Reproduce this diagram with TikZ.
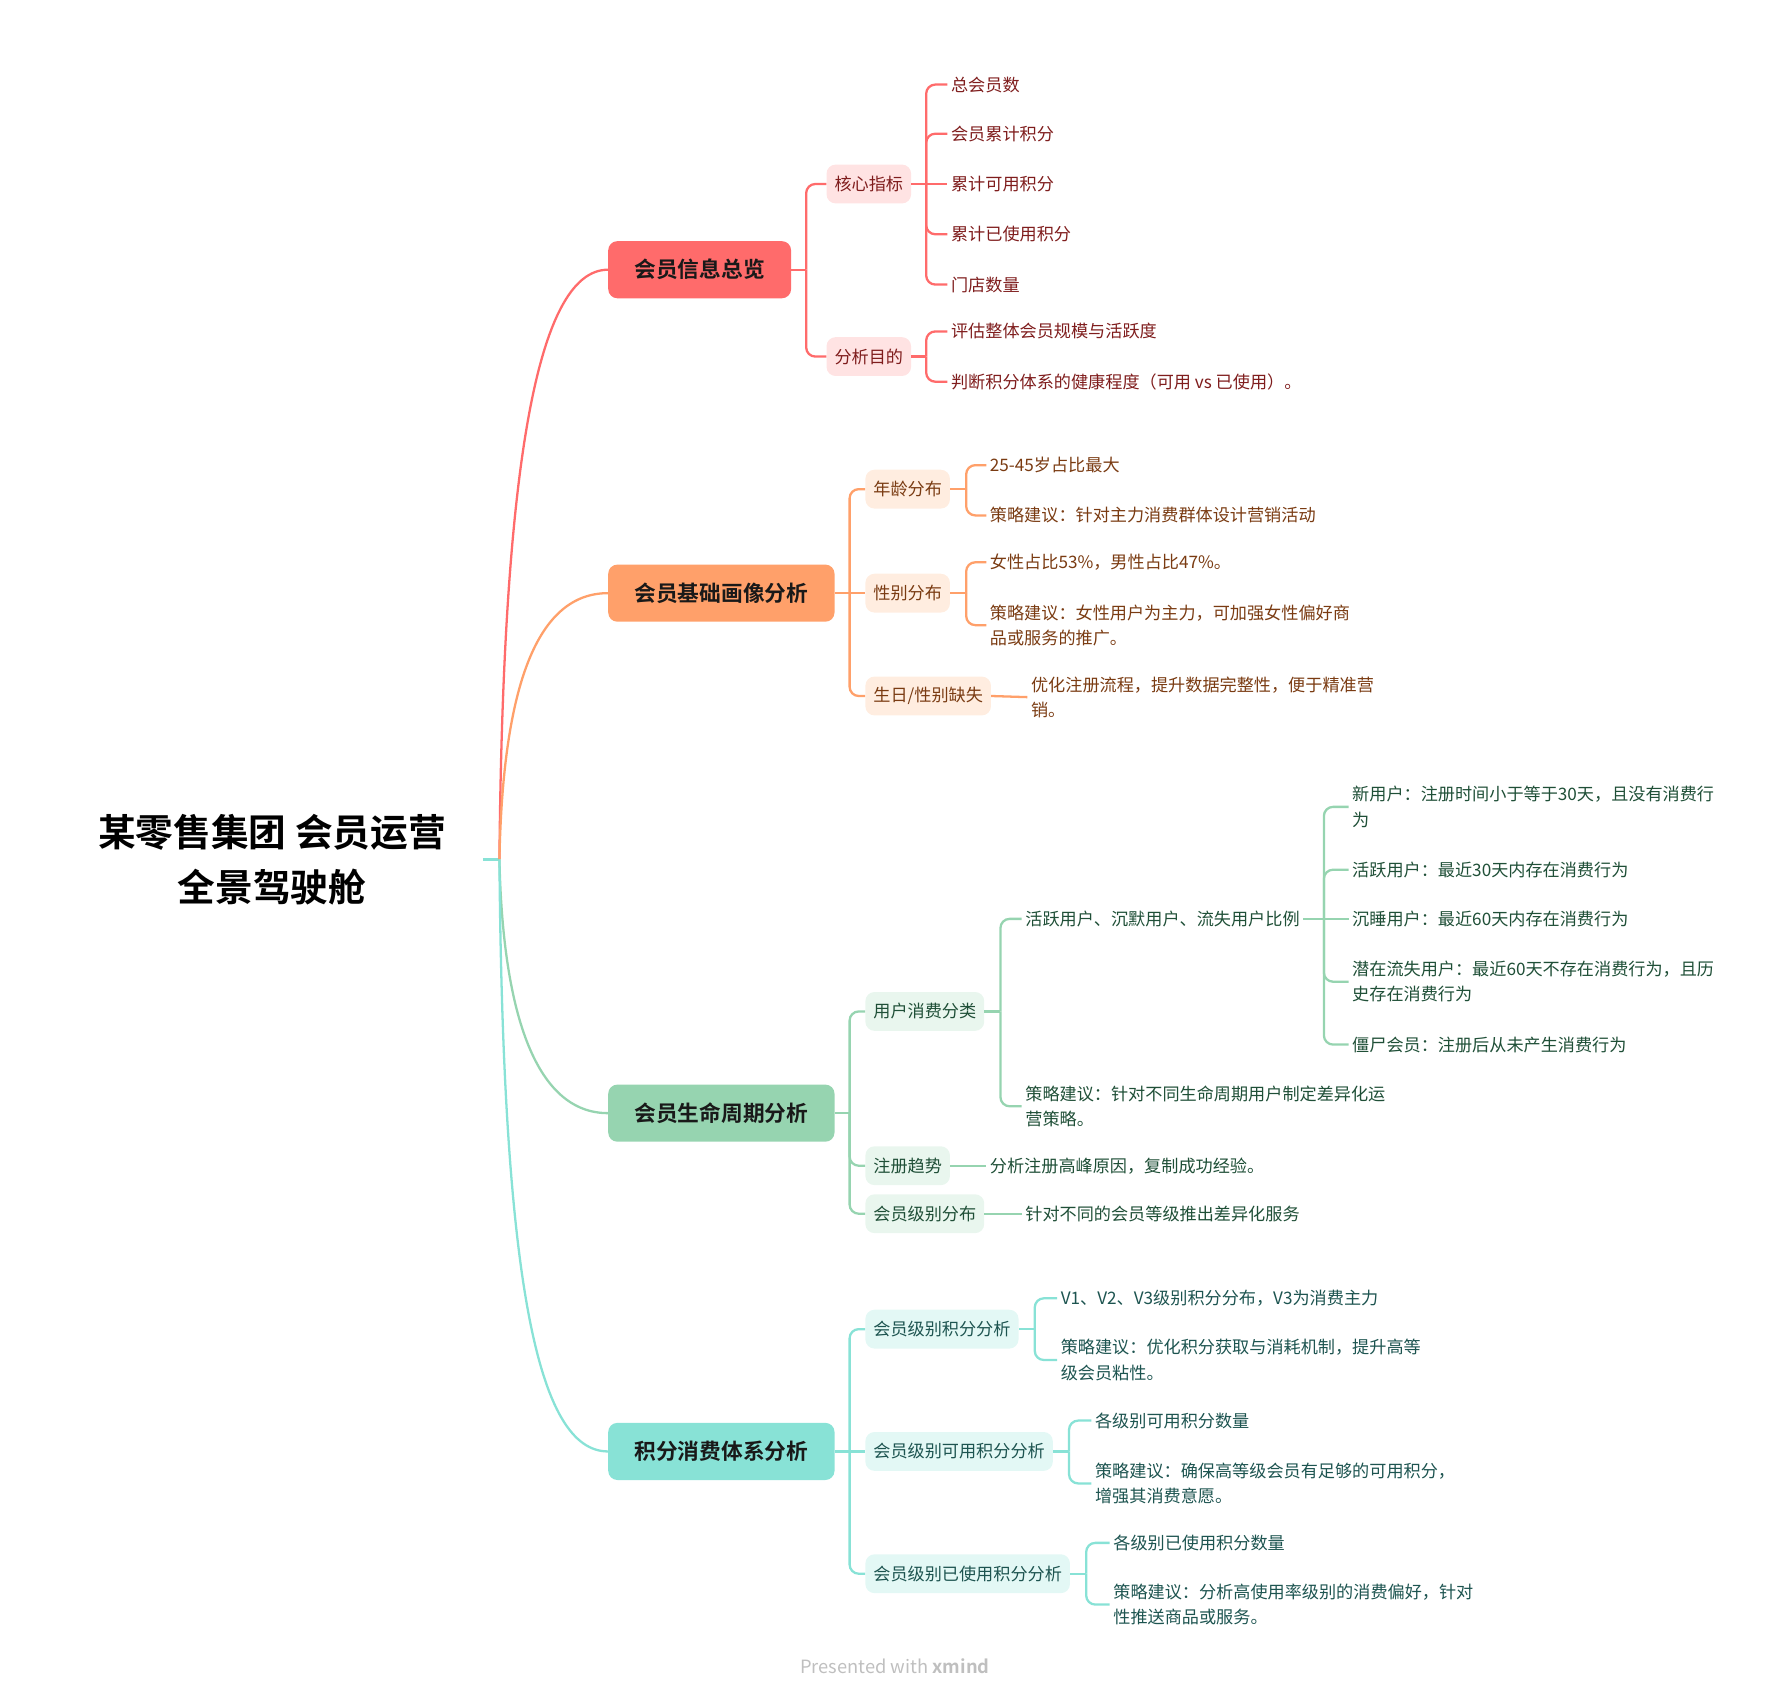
\documentclass[tikz,border=0pt]{standalone}
\usepackage{fontspec}
\usepackage{xcolor}
\usepackage{tikz}
\usetikzlibrary{positioning}
\setmainfont{Noto Sans CJK SC}[BoldFont={Noto Sans CJK SC Bold}]

\definecolor{mred}{HTML}{FF6B6B}
\definecolor{morange}{HTML}{FFA06A}
\definecolor{mgreen}{HTML}{96D4B0}
\definecolor{mteal}{HTML}{88E2D6}
\definecolor{lred}{HTML}{FFE3E3}
\definecolor{lorange}{HTML}{FFEDE0}
\definecolor{lgreen}{HTML}{E9F6EE}
\definecolor{lteal}{HTML}{E3F8F5}
\definecolor{tred}{HTML}{7F1D1D}
\definecolor{torange}{HTML}{7A3B12}
\definecolor{tgreen}{HTML}{1F4F37}
\definecolor{tteal}{HTML}{1D5450}

\begin{document}
\begin{tikzpicture}[x=1pt, y=-1pt,
    root/.style={align=center, inner xsep=32pt, font=\bfseries\fontsize{33}{48}\selectfont},
    mainnode/.style={anchor=west, fill=#1, rounded corners=8pt, minimum height=50pt, inner xsep=23pt, text=black!90, font=\bfseries\fontsize{19}{19}\selectfont},
    subnode/.style 2 args={anchor=west, fill=#1, text=#2, rounded corners=8pt, minimum height=34pt, inner xsep=7pt, font=\fontsize{15}{15}\selectfont},
    leaf/.style={anchor=west, align=left, text=#1, inner xsep=3pt, font=\fontsize{15}{22}\selectfont},
    link/.style={draw=#1, line width=2pt, rounded corners=8pt},
    curve/.style={draw=#1, line width=2pt}]
    \useasboundingbox (0,0) rectangle (1568,1487);

    % root
    \node[root] (root) at (238,752) {某零售集团 会员运营\\全景驾驶舱};
    \coordinate (hub) at (437,752);
    \draw[link=mteal] (root.east) -- (hub);

    % main branches
    \node[mainnode=mred]    (m1) at (532,236)  {会员信息总览};
    \node[mainnode=morange] (m2) at (532,519)  {会员基础画像分析};
    \node[mainnode=mgreen]  (m3) at (532,974)  {会员生命周期分析};
    \node[mainnode=mteal]   (m4) at (532,1270) {积分消费体系分析};
    \draw[curve=mred]    (hub) .. controls (440,420) and (468,236) .. (m1.west);
    \draw[curve=morange] (hub) .. controls (440,600) and (470,519) .. (m2.west);
    \draw[curve=mgreen]  (hub) .. controls (440,890) and (470,974) .. (m3.west);
    \draw[curve=mteal]   (hub) .. controls (440,1120) and (470,1270) .. (m4.west);

    % branch 1
    \node[subnode={lred}{tred}] (s11) at (723,161) {核心指标};
    \node[subnode={lred}{tred}] (s12) at (723,312) {分析目的};
    \node[leaf=tred] (l111) at (829,74)  {总会员数};
    \node[leaf=tred] (l112) at (829,117) {会员累计积分};
    \node[leaf=tred] (l113) at (829,161) {累计可用积分};
    \node[leaf=tred] (l114) at (829,205) {累计已使用积分};
    \node[leaf=tred] (l115) at (829,249) {门店数量};
    \node[leaf=tred] (l121) at (829,290) {评估整体会员规模与活跃度};
    \node[leaf=tred] (l122) at (829,334) {判断积分体系的健康程度（可用 vs 已使用）。};
    \draw[link=mred] (m1.east) -- ++(13,0) coordinate (j1);
    \foreach \s in {s11,s12}
        \draw[link=mred] (j1) |- (\s.west);
    \draw[link=mred] (s11.east) -- (l113.west);
    \path (s11.east) ++(13,0) coordinate (j11);
    \foreach \l in {l111,l112,l114,l115}
        \draw[link=mred] (j11) |- (\l.west);
    \draw[link=mred] (s12.east) -- ++(13,0) coordinate (j12);
    \foreach \l in {l121,l122}
        \draw[link=mred] (j12) |- (\l.west);

    % branch 2
    \node[subnode={lorange}{torange}] (s21) at (757,428) {年龄分布};
    \node[subnode={lorange}{torange}] (s22) at (757,519) {性别分布};
    \node[subnode={lorange}{torange}] (s23) at (757,609) {生日/性别缺失};
    \node[leaf=torange] (l211) at (863,407) {25-45岁占比最大};
    \node[leaf=torange] (l212) at (863,451) {策略建议：针对主力消费群体设计营销活动};
    \node[leaf=torange] (l221) at (863,492) {女性占比53\%，男性占比47\%。};
    \node[leaf=torange] (l222) at (863,547) {策略建议：女性用户为主力，可加强女性偏好商\\品或服务的推广。};
    \node[leaf=torange] (l231) at (899,610) {优化注册流程，提升数据完整性，便于精准营\\销。};
    \draw[link=morange] (m2.east) -- (s22.west);
    \path (m2.east) ++(13,0) coordinate (j2);
    \foreach \s in {s21,s23}
        \draw[link=morange] (j2) |- (\s.west);
    \draw[link=morange] (s21.east) -- ++(14,0) coordinate (j21);
    \foreach \l in {l211,l212}
        \draw[link=morange] (j21) |- (\l.west);
    \draw[link=morange] (s22.east) -- ++(14,0) coordinate (j22);
    \foreach \l in {l221,l222}
        \draw[link=morange] (j22) |- (\l.west);
    \draw[link=morange] (s23.east) -- (l231.west);

    % branch 3
    \node[subnode={lgreen}{tgreen}] (s31) at (757,885)  {用户消费分类};
    \node[subnode={lgreen}{tgreen}] (s32) at (757,1020) {注册趋势};
    \node[subnode={lgreen}{tgreen}] (s33) at (757,1062) {会员级别分布};
    \node[leaf=tgreen] (l311) at (894,804) {活跃用户、沉默用户、流失用户比例};
    \node[leaf=tgreen] (l312) at (894,968) {策略建议：针对不同生命周期用户制定差异化运\\营策略。};
    \node[leaf=tgreen] (u1) at (1180,706) {新用户：注册时间小于等于30天，且没有消费行\\为};
    \node[leaf=tgreen] (u2) at (1180,761) {活跃用户：最近30天内存在消费行为};
    \node[leaf=tgreen] (u3) at (1180,804) {沉睡用户：最近60天内存在消费行为};
    \node[leaf=tgreen] (u4) at (1180,859) {潜在流失用户：最近60天不存在消费行为，且历\\史存在消费行为};
    \node[leaf=tgreen] (u5) at (1180,914) {僵尸会员：注册后从未产生消费行为};
    \node[leaf=tgreen] (l321) at (863,1020) {分析注册高峰原因，复制成功经验。};
    \node[leaf=tgreen] (l331) at (894,1062) {针对不同的会员等级推出差异化服务};
    \draw[link=mgreen] (m3.east) -- ++(13,0) coordinate (j3);
    \foreach \s in {s31,s32,s33}
        \draw[link=mgreen] (j3) |- (\s.west);
    \draw[link=mgreen] (s31.east) -- ++(14,0) coordinate (j31);
    \foreach \l in {l311,l312}
        \draw[link=mgreen] (j31) |- (\l.west);
    \draw[link=mgreen] (l311.east) -- (u3.west);
    \path (l311.east) ++(18,0) coordinate (j311);
    \foreach \u in {u1,u2,u4,u5}
        \draw[link=mgreen] (j311) |- (\u.west);
    \draw[link=mgreen] (s32.east) -- (l321.west);
    \draw[link=mgreen] (s33.east) -- (l331.west);

    % branch 4
    \node[subnode={lteal}{tteal}] (s41) at (757,1163) {会员级别积分分析};
    \node[subnode={lteal}{tteal}] (s42) at (757,1270) {会员级别可用积分分析};
    \node[subnode={lteal}{tteal}] (s43) at (757,1377) {会员级别已使用积分分析};
    \node[leaf=tteal] (l411) at (925,1136) {V1、V2、V3级别积分分布，V3为消费主力};
    \node[leaf=tteal] (l412) at (925,1190) {策略建议：优化积分获取与消耗机制，提升高等\\级会员粘性。};
    \node[leaf=tteal] (l421) at (955,1243) {各级别可用积分数量};
    \node[leaf=tteal] (l422) at (955,1298) {策略建议：确保高等级会员有足够的可用积分，\\增强其消费意愿。};
    \node[leaf=tteal] (l431) at (971,1350) {各级别已使用积分数量};
    \node[leaf=tteal] (l432) at (971,1404) {策略建议：分析高使用率级别的消费偏好，针对\\性推送商品或服务。};
    \draw[link=mteal] (m4.east) -- (s42.west);
    \path (m4.east) ++(13,0) coordinate (j4);
    \foreach \s in {s41,s43}
        \draw[link=mteal] (j4) |- (\s.west);
    \draw[link=mteal] (s41.east) -- ++(14,0) coordinate (j41);
    \foreach \l in {l411,l412}
        \draw[link=mteal] (j41) |- (\l.west);
    \draw[link=mteal] (s42.east) -- ++(14,0) coordinate (j42);
    \foreach \l in {l421,l422}
        \draw[link=mteal] (j42) |- (\l.west);
    \draw[link=mteal] (s43.east) -- ++(14,0) coordinate (j43);
    \foreach \l in {l431,l432}
        \draw[link=mteal] (j43) |- (\l.west);

    % watermark
    \node[text=black!25, font=\fontsize{16}{16}\selectfont] (mark) at (783,1458) {Presented with \textbf{xmind}};
\end{tikzpicture}
\end{document}
